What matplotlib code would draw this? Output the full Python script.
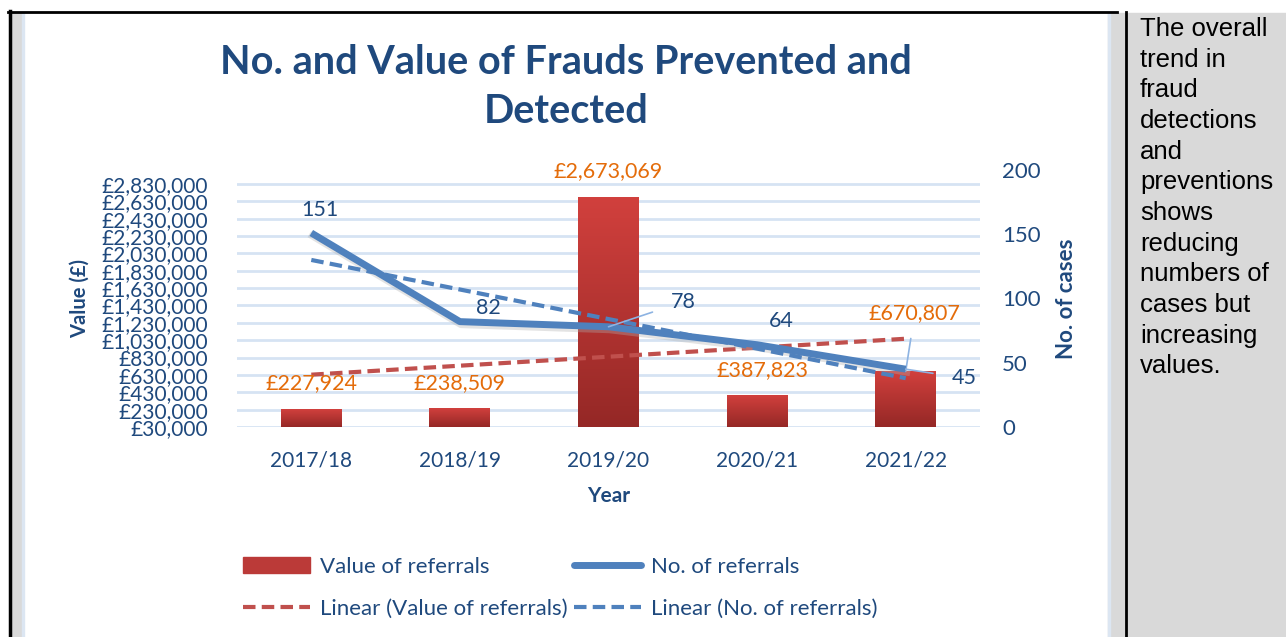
import numpy as np
import matplotlib
matplotlib.use("Agg")
import matplotlib.pyplot as plt
from matplotlib.patches import Rectangle
from matplotlib.lines import Line2D

years = ["2017/18", "2018/19", "2019/20", "2020/21", "2021/22"]
values = [227924, 238509, 2673069, 387823, 670807]
cases = [151, 82, 78, 64, 45]
value_ticks = list(range(30000, 2830001, 200000))
case_ticks = [0, 50, 100, 150, 200]
note = "The overall\ntrend in\nfraud\ndetections\nand\npreventions\nshows\nreducing\nnumbers of\ncases but\nincreasing\nvalues."

W, H = 1286, 637
NAVY = "#1f497d"
BLUE = "#4f81bd"
RED = "#c0504d"
ORANGE = "#e46c0a"
GRID = "#d6e3f3"
FONT = "Lato"

def fx(px):
    return px / W

def fy(py):
    return 1 - py / H

fig = plt.figure(figsize=(W / 100, H / 100), dpi=100)

# page / table decoration
fig.patches.append(Rectangle((fx(10), 0), fx(12), fy(13), transform=fig.transFigure, color="#d9d9d9", zorder=0))
fig.patches.append(Rectangle((fx(22), 0), fx(2), fy(13), transform=fig.transFigure, color="#dce6f2", zorder=0))
fig.patches.append(Rectangle((fx(1108), 0), fx(W - 1108), fy(13), transform=fig.transFigure, color="#d9d9d9", zorder=0))
fig.patches.append(Rectangle((fx(1108), 0), fx(2), fy(13), transform=fig.transFigure, color="#dce6f2", zorder=0))
fig.lines.append(Line2D([fx(9.5), fx(9.5)], [0, fy(11)], transform=fig.transFigure, color="black", lw=2.5))
fig.lines.append(Line2D([fx(8), fx(1117)], [fy(11.5), fy(11.5)], transform=fig.transFigure, color="black", lw=2))
fig.lines.append(Line2D([fx(1125.5), fx(1125.5)], [0, fy(12)], transform=fig.transFigure, color="black", lw=2))
fig.text(fx(1140), fy(17), note, ha="left", va="top", fontsize=18.5, family="Liberation Sans",
         color="black", linespacing=1.35)

# chart
ax = fig.add_axes([fx(237), fy(427), fx(980 - 237), (427 - 170) / H])
x = np.arange(len(years))
bars = ax.bar(x, values, width=0.41, bottom=0, color="#c0393a", zorder=2)

grad = np.linspace(0, 1, 100).reshape(-1, 1)
cmap = matplotlib.colors.LinearSegmentedColormap.from_list("barg", ["#952826", "#d1403d"])
for b in bars:
    x0, w, h = b.get_x(), b.get_width(), b.get_height()
    ax.imshow(grad, extent=[x0, x0 + w, 30000, h], origin="lower", aspect="auto", cmap=cmap, zorder=3)
ax.set_xlim(-0.5, len(years) - 0.5)
ax.set_ylim(30000, 2990000)

ax.set_yticks(value_ticks)
ax.set_yticklabels([f"£{v:,}" for v in value_ticks], fontsize=15, color=NAVY, family=FONT)
ax.set_xticks(x)
ax.set_xticklabels(years, fontsize=15, color=NAVY, family=FONT)
ax.tick_params(length=0, pad=17)
ax.tick_params(axis="y", pad=21)
ax.yaxis.grid(True, color=GRID, lw=2, zorder=0)
ax.set_axisbelow(True)
for s in ax.spines.values():
    s.set_visible(False)
ax.patch.set_visible(False)

# value trend
cv = np.polyfit(x, values, 1)
ax.plot(x, np.polyval(cv, x), color=RED, lw=3, ls=(0, (3, 1.5)), zorder=5)

val_off = [(0, 27), (0, 26), (0, 26), (5, 26), (9, 58)]
for i, v in enumerate(values):
    dx, dy = val_off[i]
    kw = {}
    if i == 4:
        kw["arrowprops"] = dict(arrowstyle="-", color="#8db3e2", lw=1.2, shrinkA=9, shrinkB=0)
    ax.annotate(f"£{v:,}", (x[i], v), xytext=(dx, dy), textcoords="offset pixels",
                ha="center", va="center", fontsize=15.5, color=ORANGE, family=FONT, zorder=8, **kw)

ax2 = ax.twinx()
ax2.set_ylim(0, 200)
ax2.set_yticks(case_ticks)
ax2.set_yticklabels([str(c) for c in case_ticks], fontsize=16, color=NAVY, family=FONT)
ax2.tick_params(length=0, pad=16)
for s in ax2.spines.values():
    s.set_visible(False)

cc = np.polyfit(x, cases, 1)
ax2.plot(x, np.polyval(cc, x), color=BLUE, lw=3, ls=(0, (3, 1.5)), zorder=4)
ax2.plot(x, cases, color="#b0b0b0", lw=5, alpha=0.35, zorder=3,
         transform=ax2.transData + matplotlib.transforms.ScaledTranslation(1 / 100, -3 / 100, fig.dpi_scale_trans))
ax2.plot(x, cases, color=BLUE, lw=5, zorder=5, solid_capstyle="butt")

case_off = [(9, 23), (28, 14), (75, 25), (24, 24), (59, -9)]
for i, c in enumerate(cases):
    dx, dy = case_off[i]
    kw = {}
    if i in (2, 4):
        kw["arrowprops"] = dict(arrowstyle="-", color="#8db3e2", lw=1.2, shrinkA=12, shrinkB=0)
    ax2.annotate(str(c), (x[i], c), xytext=(dx, dy), textcoords="offset pixels",
                 ha="center", va="center", fontsize=15.5, color=NAVY, family=FONT, zorder=8, **kw)

ax.set_ylabel("Value (£)", fontsize=14.5, fontweight="bold", color=NAVY, family=FONT, labelpad=8)
ax2.set_ylabel("No. of cases", fontsize=16, fontweight="bold", color=NAVY, family=FONT, labelpad=11)
ax.set_xlabel("Year", fontsize=15, fontweight="bold", color=NAVY, family=FONT, labelpad=11)

fig.text(fx(566), fy(87), "No. and Value of Frauds Prevented and\nDetected", ha="center", va="center",
         fontsize=28.5, fontweight="bold", color=NAVY, family=FONT, linespacing=1.42)

handles = [
    Rectangle((0, 0), 1, 1, color="#bb3a38"),
    Line2D([], [], color=BLUE, lw=5, solid_capstyle="round"),
    Line2D([], [], color=RED, lw=3, ls=(0, (3, 1.5))),
    Line2D([], [], color=BLUE, lw=3, ls=(0, (3, 1.5))),
]
labels = ["Value of referrals", "No. of referrals", "Linear (Value of referrals)", "Linear (No. of referrals)"]
order = [0, 2, 1, 3]
leg = fig.legend([handles[i] for i in order], [labels[i] for i in order], ncol=2, loc="upper left",
                 bbox_to_anchor=(fx(223), fy(537)), frameon=False, handlelength=3.0, handletextpad=0.45,
                 columnspacing=0.3, labelspacing=1.0, prop={"family": FONT, "size": 16})
for t in leg.get_texts():
    t.set_color(NAVY)

fig.savefig("out.png", dpi=100)
